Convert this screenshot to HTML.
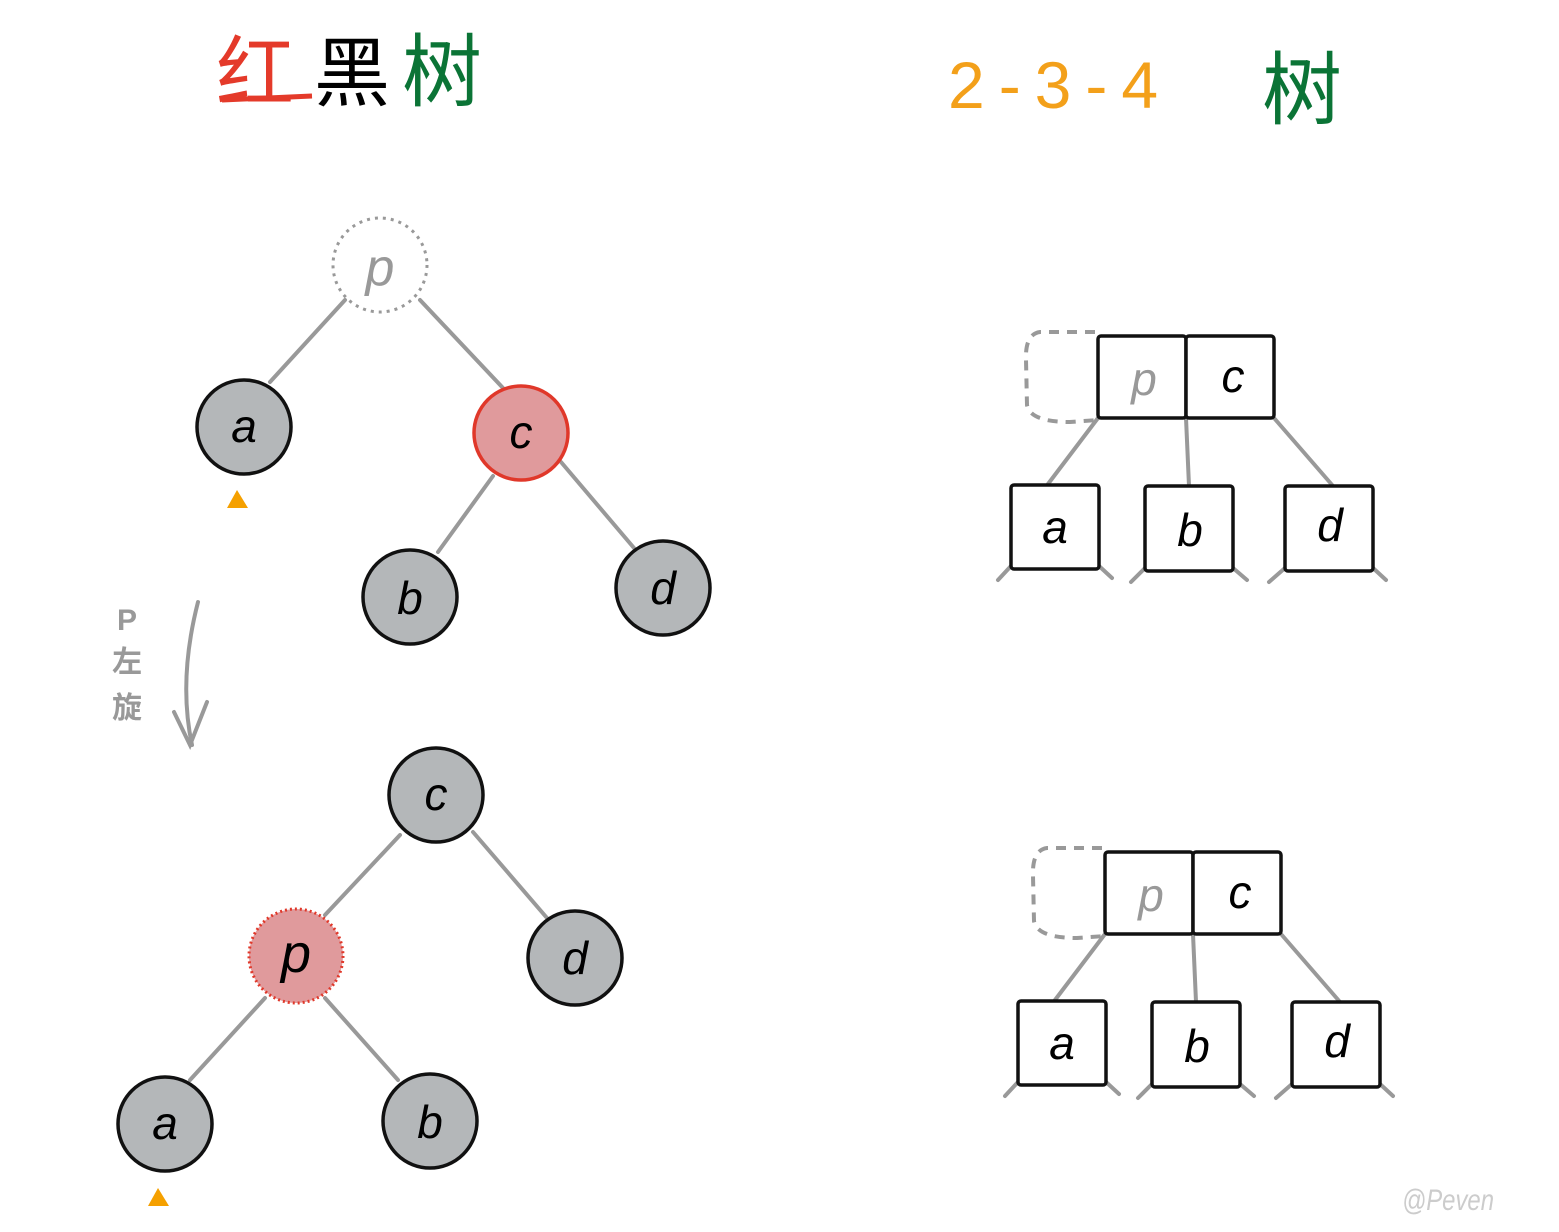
<!DOCTYPE html>
<html><head><meta charset="utf-8"><style>
html,body{margin:0;padding:0;background:#fff;}
svg{display:block;}
text{font-family:"Liberation Sans","Noto Sans CJK SC",sans-serif;}
</style></head><body>
<svg width="1559" height="1232" viewBox="0 0 1559 1232" xmlns="http://www.w3.org/2000/svg">
<!-- titles -->
<text x="216" y="100" font-size="78" fill="#e43a2a">红</text>
<text x="314" y="100" font-size="76" fill="#000">黑</text>
<text x="402" y="100" font-size="80" fill="#0b7436">树</text>
<line x1="222" y1="100" x2="312" y2="96" stroke="#e43a2a" stroke-width="5"/>
<text x="948" y="108" font-size="66" fill="#f3a01a" letter-spacing="14">2-3-4</text>
<text x="1262" y="118" font-size="80" fill="#0b7436">树</text>

<g stroke="#999" stroke-width="4" stroke-linecap="round" fill="none">
<line x1="270" y1="382" x2="345" y2="300"/>
<line x1="420" y1="300" x2="503" y2="388"/>
<line x1="493" y1="476" x2="438" y2="552"/>
<line x1="561" y1="462" x2="634" y2="548"/>
<line x1="400" y1="835" x2="325" y2="915"/>
<line x1="473" y1="832" x2="547" y2="918"/>
<line x1="265" y1="998" x2="190" y2="1080"/>
<line x1="325" y1="998" x2="398" y2="1080"/>
<path d="M198 602 Q178 680 192 745"/>
<path d="M174 712 L190 745 L207 702"/>
</g>
<circle cx="380" cy="265" r="47" fill="none" stroke="#999" stroke-width="3" stroke-dasharray="3,5"/>
<text x="380" y="285" font-size="52" fill="#999" text-anchor="middle" font-style="italic">p</text>
<g stroke="#111" stroke-width="3.5" fill="#b4b7b9">
<circle cx="244" cy="427" r="47"/>
<circle cx="410" cy="597" r="47"/>
<circle cx="663" cy="588" r="47"/>
<circle cx="436" cy="795" r="47"/>
<circle cx="575" cy="958" r="47"/>
<circle cx="165" cy="1124" r="47"/>
<circle cx="430" cy="1121" r="47"/>
</g>
<circle cx="521" cy="433" r="47" fill="#e09a9c" stroke="#e0382a" stroke-width="3.5"/>
<circle cx="296" cy="956" r="47" fill="#e09a9c" stroke="#e0382a" stroke-width="3" stroke-dasharray="2,3"/>
<g font-size="46" fill="#000" text-anchor="middle" font-style="italic">
<text x="244" y="442">a</text>
<text x="521" y="448">c</text>
<text x="410" y="614">b</text>
<text x="663" y="604">d</text>
<text x="436" y="810">c</text>
<text x="575" y="974">d</text>
<text x="296" y="972" font-size="54">p</text>
<text x="165" y="1139">a</text>
<text x="430" y="1138">b</text>
</g>
<polygon points="237,490 227,508 248,508" fill="#f5a000"/>
<polygon points="158,1188 148,1206 169,1206" fill="#f5a000"/>
<g font-size="30" fill="#999" text-anchor="middle" font-weight="bold">
<text x="127" y="630">P</text>
<text x="127" y="672">左</text>
<text x="127" y="718">旋</text>
</g>

<g id="t">
<path d="M1095 332 L1040 332 Q1025 334 1026 360 L1027 405 Q1030 422 1070 422 L1098 420" fill="none" stroke="#999" stroke-width="4" stroke-dasharray="10,8"/>
<g stroke="#999" stroke-width="4" stroke-linecap="round">
<line x1="1098" y1="418" x2="1048" y2="484"/>
<line x1="1186" y1="418" x2="1189" y2="486"/>
<line x1="1274" y1="418" x2="1333" y2="486"/>
<line x1="1011" y1="566" x2="998" y2="580"/><line x1="1099" y1="566" x2="1112" y2="578"/>
<line x1="1145" y1="568" x2="1131" y2="582"/><line x1="1233" y1="568" x2="1247" y2="580"/>
<line x1="1285" y1="568" x2="1269" y2="582"/><line x1="1373" y1="568" x2="1386" y2="580"/>
</g>
<g fill="#fff" stroke="#111" stroke-width="3.5">
<rect x="1098" y="336" width="88" height="82" rx="3"/>
<rect x="1186" y="336" width="88" height="82" rx="3"/>
<rect x="1011" y="485" width="88" height="84" rx="3"/>
<rect x="1145" y="486" width="88" height="85" rx="3"/>
<rect x="1285" y="486" width="88" height="85" rx="3"/>
</g>
<g font-size="46" text-anchor="middle" font-style="italic">
<text x="1144" y="395" fill="#999">p</text>
<text x="1233" y="392" fill="#000">c</text>
<text x="1055" y="543" fill="#000">a</text>
<text x="1190" y="546" fill="#000">b</text>
<text x="1330" y="541" fill="#000">d</text>
</g>
</g>
<use href="#t" transform="translate(7,516)"/>

<text x="1402" y="1210" font-size="30" fill="#ccc" font-style="italic" textLength="92" lengthAdjust="spacingAndGlyphs">@Peven</text>
</svg>
</body></html>
